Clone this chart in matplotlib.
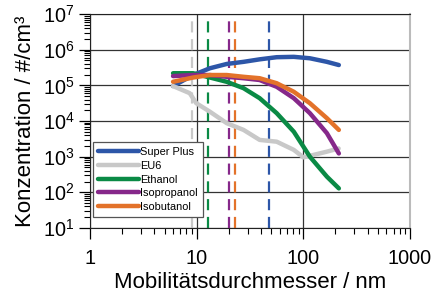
import math
import matplotlib
matplotlib.use("Agg")
import matplotlib.pyplot as plt
from matplotlib.ticker import FuncFormatter, LogLocator

plt.rcParams['font.family'] = ['Liberation Sans', 'DejaVu Sans']
plt.rcParams['mathtext.fontset'] = 'custom'
plt.rcParams['mathtext.rm'] = 'Liberation Sans'

# Mobilitätsdurchmesser (nm) und log10 der Konzentration
x_d = [6.0, 9.25, 13.3, 19.1, 27.5, 38.9, 56.2, 81.3, 115, 166, 215]
y_sp = [4.98, 5.29, 5.48, 5.60, 5.66, 5.73, 5.79, 5.80, 5.76, 5.66, 5.57]
y_eth = [5.34, 5.34, 5.22, 5.10, 4.92, 4.64, 4.22, 3.70, 3.00, 2.44, 2.11]
y_iprop = [5.26, 5.29, 5.29, 5.24, 5.20, 5.15, 4.96, 4.64, 4.22, 3.66, 3.09]
y_ibut = [5.10, 5.22, 5.29, 5.29, 5.24, 5.20, 5.06, 4.82, 4.50, 4.08, 3.75]

x_eu6 = [6.0, 8.6, 9.9, 13.3, 19.1, 27.5, 38.9, 56.2, 81.3, 100, 125, 166, 214]
y_eu6 = [4.98, 4.78, 4.50, 4.26, 3.94, 3.75, 3.47, 3.42, 3.19, 2.98, 3.05, 3.14, 3.23]

# Mittlere Durchmesser (gestrichelte Linien)
vlines = [9.0, 12.8, 20.1, 22.9, 47.9]

labels = ['Super Plus', 'EU6', 'Ethanol', 'Isopropanol', 'Isobutanol']
colors = ['#2D56A8', '#C8C8C8', '#0A8A45', '#86288A', '#E3722A']
vcolors = ['#C8C8C8', '#0A8A45', '#86288A', '#E3722A', '#2D56A8']

fig = plt.figure(figsize=(4.33, 2.93), dpi=100)
ax = fig.add_axes([0.208, 0.222, 0.739, 0.730])

for xv, c in zip(vlines, vcolors):
    ax.axvline(xv, color=c, lw=1.6, dashes=(5, 3), zorder=2)

series = [(x_d, y_sp), (x_eu6, y_eu6), (x_d, y_eth), (x_d, y_iprop), (x_d, y_ibut)]
for (xs, ys), c, lab in zip(series, colors, labels):
    ax.plot(xs, [10 ** v for v in ys], color=c, lw=3.2, label=lab, zorder=3,
            solid_capstyle='round', solid_joinstyle='round')

ax.set_xscale('log')
ax.set_yscale('log')
ax.set_xlim(1, 1000)
ax.set_ylim(1e1, 1e7)

ax.xaxis.set_major_formatter(FuncFormatter(lambda v, p: '%d' % v))
ax.yaxis.set_major_formatter(FuncFormatter(lambda v, p: r'$\mathregular{10^{%d}}$' % round(math.log10(v))))
ax.yaxis.set_major_locator(LogLocator(base=10, numticks=10))
ax.yaxis.set_minor_locator(LogLocator(base=10, subs=range(2, 10), numticks=20))

ax.grid(True, which='major', color='#333333', lw=0.9, zorder=1)
ax.tick_params(which='major', direction='out', length=8, width=0.9, labelsize=14.3)
ax.tick_params(which='minor', direction='out', length=4.5, width=0.8)
ax.tick_params(axis='x', pad=7)
ax.tick_params(axis='y', pad=3)
for s in ['left', 'bottom', 'top']:
    ax.spines[s].set_color('#222222')
ax.spines['right'].set_color('#BBBBBB')
ax.spines['right'].set_linewidth(1.5)

ax.set_xlabel('Mobilitätsdurchmesser / nm', fontsize=16, labelpad=3)
ax.set_ylabel('Konzentration / #/cm³', fontsize=16, labelpad=5)

leg = ax.legend(loc='lower left', bbox_to_anchor=(0.008, 0.05), fontsize=7.9,
                handlelength=3.7, handletextpad=0.1, labelspacing=0.33,
                borderpad=0.5, borderaxespad=0, fancybox=False, framealpha=1)
leg.get_frame().set_edgecolor('#555555')
leg.get_frame().set_linewidth(0.9)

fig.savefig('out.png', dpi=100)
